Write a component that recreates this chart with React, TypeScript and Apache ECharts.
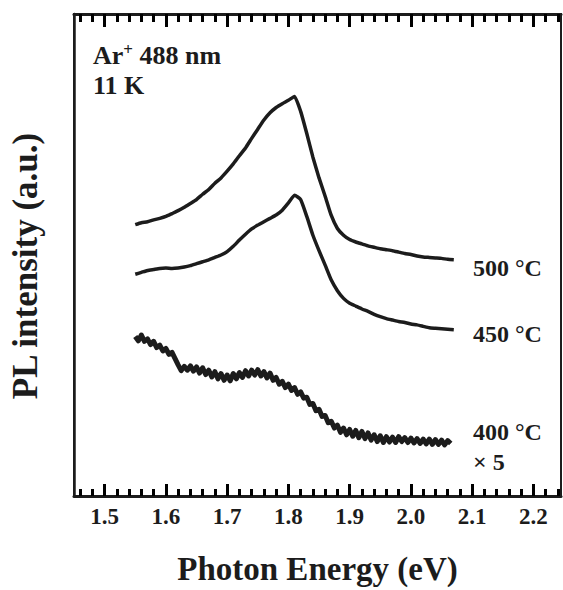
import React, { useEffect, useRef } from "react";
import * as echarts from "echarts";

const INK = "#1c1c1c";
const FONT = "'Liberation Serif', 'Times New Roman', serif";

// x-axis tick labels (eV)
const majorTicks = [1.5, 1.6, 1.7, 1.8, 1.9, 2.0, 2.1, 2.2];
const minorTicks = [1.46, 1.48, 1.52, 1.54, 1.56, 1.58, 1.62, 1.64, 1.66, 1.68, 1.72, 1.74, 1.76, 1.78, 1.82, 1.84, 1.86, 1.88, 1.92, 1.94, 1.96, 1.98, 2.02, 2.04, 2.06, 2.08, 2.12, 2.14, 2.16, 2.18, 2.22, 2.24];

// energy grids
const energy10 = Array.from({ length: 53 }, (_, i) => +(1.55 + i * 0.01).toFixed(3));
const energy5 = Array.from({ length: 104 }, (_, i) => +(1.55 + i * 0.005).toFixed(3));

// PL intensity (a.u., offset for display)
const pl500 = [56.3, 56.7, 56.9, 57.3, 57.6, 58.0, 58.6, 59.2, 59.9, 60.7, 61.5, 62.6, 63.6, 64.9, 66.0, 67.4, 68.9, 70.6, 72.2, 74.2, 76.1, 78.0, 79.5, 80.6, 81.4, 82.1, 82.9, 79.8, 75.2, 70.3, 66.0, 62.2, 58.2, 55.5, 54.1, 53.2, 52.7, 52.3, 51.9, 51.6, 51.3, 51.1, 50.9, 50.6, 50.3, 50.1, 49.8, 49.6, 49.5, 49.4, 49.3, 49.1, 49.0];
const pl450 = [46.0, 46.4, 46.8, 47.0, 47.2, 47.3, 47.2, 47.3, 47.5, 47.8, 48.2, 48.6, 49.0, 49.5, 50.0, 50.7, 51.8, 53.1, 54.3, 55.4, 56.2, 56.9, 57.6, 58.3, 59.3, 60.8, 62.4, 61.5, 58.0, 54.1, 50.9, 47.9, 44.8, 42.6, 41.0, 40.0, 39.4, 38.8, 38.3, 37.7, 37.2, 36.8, 36.5, 36.2, 36.0, 35.7, 35.5, 35.2, 34.9, 34.8, 34.7, 34.6, 34.5];
const pl400x5 = [
  33.1, 32.2, 33.4, 32.1, 32.6, 31.4, 32.1, 30.8, 31.3, 30.1,
  30.6, 29.4, 29.8, 28.5, 27.2, 26.0, 26.9, 26.1, 27.0, 25.9,
  26.8, 25.5, 26.6, 25.2, 26.1, 24.7, 25.8, 24.3, 25.4, 24.0,
  25.1, 23.9, 25.4, 24.3, 25.6, 24.6, 26.0, 24.9, 26.1, 25.1,
  26.2, 24.9, 25.8, 24.5, 25.5, 24.0, 24.6, 23.2, 23.8, 22.5,
  23.2, 21.9, 22.5, 21.1, 21.6, 20.3, 20.5, 19.0, 19.2, 17.7,
  18.0, 16.5, 16.7, 15.2, 15.5, 14.1, 14.7, 13.2, 14.1, 12.7,
  13.8, 12.4, 13.6, 12.1, 13.4, 11.9, 13.1, 11.6, 12.7, 11.3,
  12.5, 11.1, 12.3, 11.2, 12.2, 11.1, 12.3, 11.3, 12.1, 11.1,
  12.0, 11.0, 11.9, 10.9, 11.8, 10.8, 11.8, 10.7, 11.7, 10.7,
  11.6, 10.6, 11.5, 10.9,
];

const seriesLabels = ["500 °C", "450 °C", "400 °C"];

export default function App() {
  const ref = useRef<HTMLDivElement>(null);
  useEffect(() => {
    if (!ref.current) return;
    const chart = echarts.init(ref.current, undefined, { renderer: "svg" });
    const mk = (xs: number[], ys: number[]) => xs.map((x, i) => [x, ys[i]]);
    const line = (name: string, data: number[][], w: number, smooth: number) => ({
      name,
      type: "line",
      xAxisIndex: 0,
      yAxisIndex: 0,
      data,
      smooth,
      showSymbol: false,
      symbol: "none",
      lineStyle: { color: INK, width: w, join: "round" },
      itemStyle: { color: INK },
      z: 2,
    });
    const txt = (text: string, x: number, y: number, size: number) => ({
      type: "text",
      x,
      y,
      style: {
        text,
        fill: INK,
        fontFamily: FONT,
        fontWeight: "bold",
        fontSize: size,
        verticalAlign: "middle",
        align: "left",
      },
    });
    const tickAxis = (pos: string, vals: number[], len: number, showLine: boolean) => ({
      type: "value",
      min: 1.45,
      max: 2.245,
      position: pos,
      splitLine: { show: false },
      axisLine: { show: showLine, onZero: false, lineStyle: { color: INK, width: 3 } },
      axisTick: {
        show: true,
        inside: true,
        length: len,
        customValues: vals,
        lineStyle: { color: "#000000", width: 3 },
      },
      axisLabel: { show: false },
    });
    chart.setOption({
      animation: false,
      backgroundColor: "#ffffff",
      grid: {
        left: 74,
        top: 14,
        right: 2,
        bottom: 88,
        show: true,
        borderColor: INK,
        borderWidth: 2,
        containLabel: false,
      },
      xAxis: [
        {
          type: "value",
          min: 1.45,
          max: 2.245,
          position: "bottom",
          splitLine: { show: false },
          axisLine: { show: true, onZero: false, lineStyle: { color: INK, width: 3 } },
          axisTick: { show: true, inside: true, length: 12, customValues: majorTicks, lineStyle: { color: "#000000", width: 3 } },
          axisLabel: {
            show: true,
            customValues: majorTicks,
            formatter: (v: number) => v.toFixed(1),
            fontFamily: FONT,
            fontWeight: "bold",
            fontSize: 23,
            color: INK,
            margin: 9,
          },
          name: "Photon Energy (eV)",
          nameLocation: "middle",
          nameGap: 56,
          nameTextStyle: { fontFamily: FONT, fontWeight: "bold", fontSize: 33, color: INK },
        },
        tickAxis("bottom", minorTicks, 7, false),
        tickAxis("top", majorTicks, 13, true),
        tickAxis("top", minorTicks, 8, false),
      ],
      yAxis: [
        {
          type: "value",
          min: 0,
          max: 100,
          position: "left",
          axisLine: { show: true, onZero: false, lineStyle: { color: INK, width: 2.5 } },
          axisTick: { show: false },
          axisLabel: { show: false },
          splitLine: { show: false },
        },
      ],
      series: [
        line(seriesLabels[0], mk(energy10, pl500), 3.5, 0.15),
        line(seriesLabels[1], mk(energy10, pl450), 3.5, 0.15),
        line(seriesLabels[2], mk(energy5, pl400x5), 5, 0),
      ],
      graphic: [
        {
          type: "text",
          x: 25,
          y: 266,
          rotation: Math.PI / 2,
          style: {
            text: "PL intensity (a.u.)",
            fill: INK,
            fontFamily: FONT,
            fontWeight: "bold",
            fontSize: 35,
            align: "center",
            verticalAlign: "middle",
          },
        },
        {
          type: "text",
          x: 93,
          y: 55,
          style: {
            text: "{b|Ar}{s|+}{b| 488 nm}",
            fill: INK,
            verticalAlign: "middle",
            rich: {
              b: { fontFamily: FONT, fontWeight: "bold", fontSize: 26, color: INK },
              s: { fontFamily: FONT, fontWeight: "bold", fontSize: 17, color: INK, padding: [0, 0, 12, 0] },
            },
          },
        },
        txt("11 K", 93, 85, 26),
        txt(seriesLabels[0], 473, 268, 24),
        txt(seriesLabels[1], 473, 334, 24),
        txt(seriesLabels[2], 473, 432, 24),
        txt("× 5", 473, 462, 24),
      ],
    });
    return () => chart.dispose();
  }, []);
  return <div ref={ref} style={{ width: 563, height: 590, position: "absolute", left: 0, top: 0 }} />;
}
